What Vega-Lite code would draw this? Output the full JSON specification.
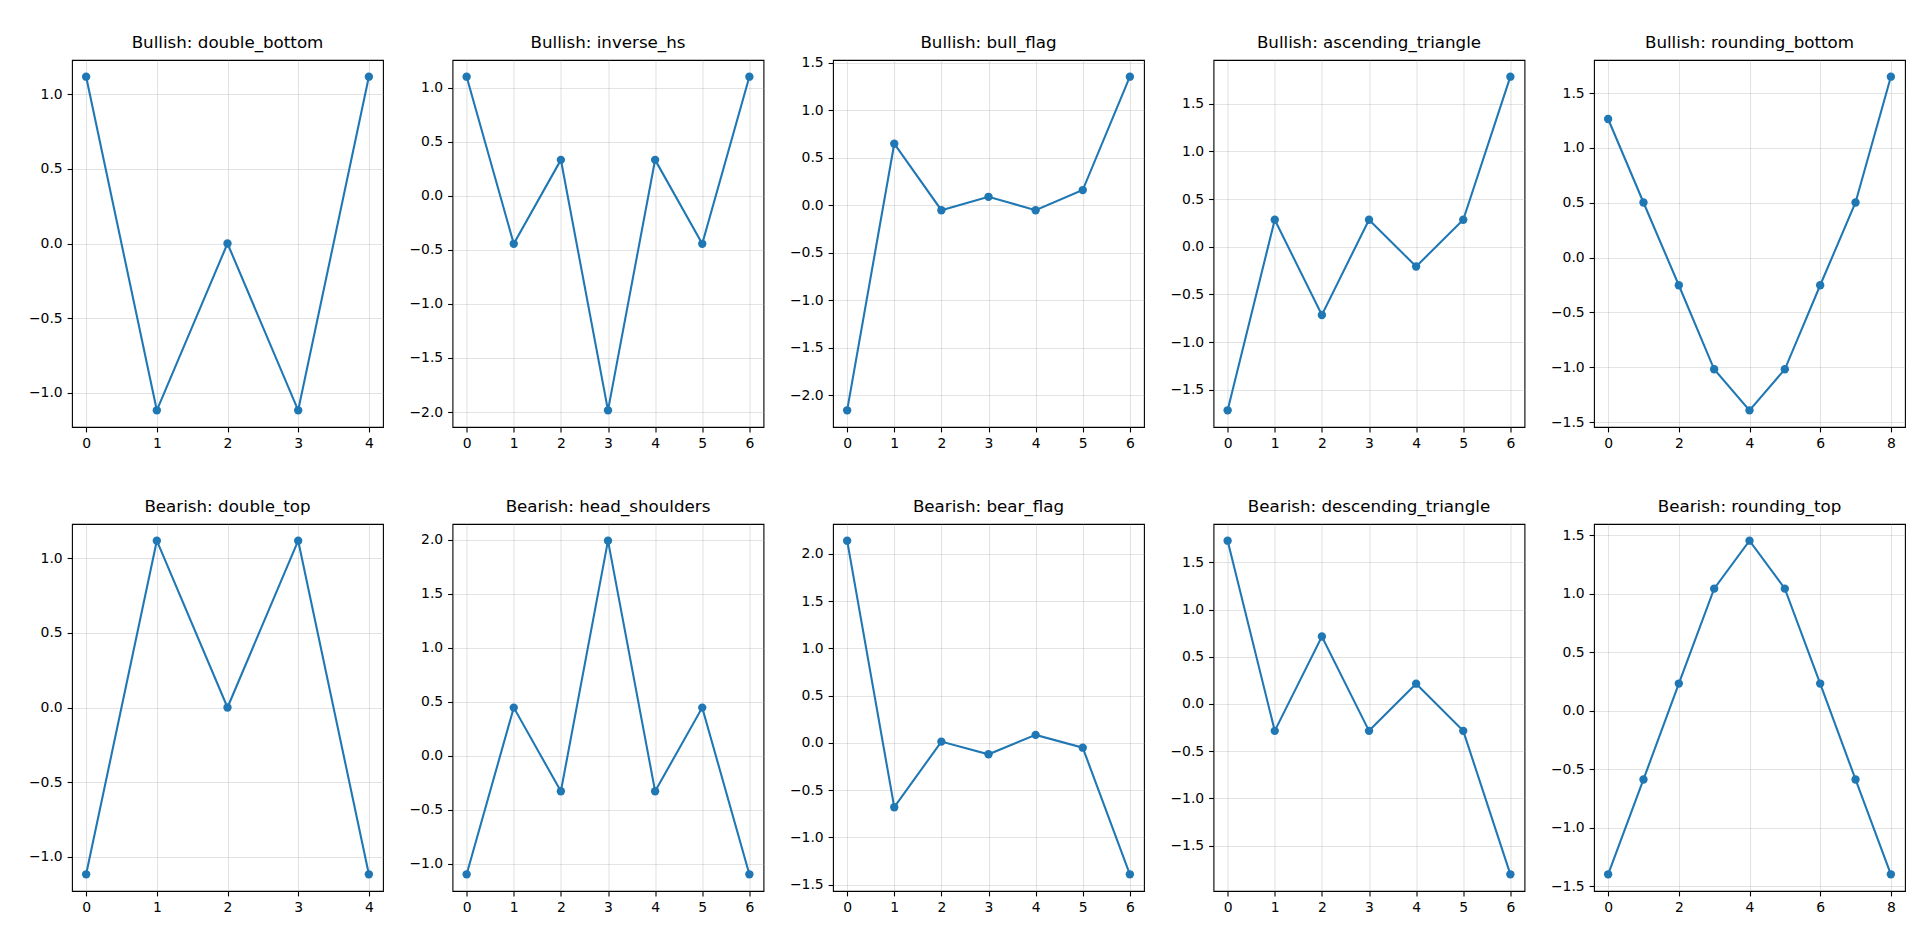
{
  "$schema": "https://vega.github.io/schema/vega-lite/v6.json",
  "padding": {"left": 27, "top": 34, "right": 5, "bottom": 5},
  "background": "white",
  "data": {"values": [
    {"pattern": "Bullish: double_bottom", "i": 0, "v": 1.118},
    {"pattern": "Bullish: double_bottom", "i": 1, "v": -1.118},
    {"pattern": "Bullish: double_bottom", "i": 2, "v": 0.0},
    {"pattern": "Bullish: double_bottom", "i": 3, "v": -1.118},
    {"pattern": "Bullish: double_bottom", "i": 4, "v": 1.118},
    {"pattern": "Bullish: inverse_hs", "i": 0, "v": 1.1},
    {"pattern": "Bullish: inverse_hs", "i": 1, "v": -0.445},
    {"pattern": "Bullish: inverse_hs", "i": 2, "v": 0.331},
    {"pattern": "Bullish: inverse_hs", "i": 3, "v": -1.984},
    {"pattern": "Bullish: inverse_hs", "i": 4, "v": 0.331},
    {"pattern": "Bullish: inverse_hs", "i": 5, "v": -0.445},
    {"pattern": "Bullish: inverse_hs", "i": 6, "v": 1.1},
    {"pattern": "Bullish: bull_flag", "i": 0, "v": -2.16},
    {"pattern": "Bullish: bull_flag", "i": 1, "v": 0.647},
    {"pattern": "Bullish: bull_flag", "i": 2, "v": -0.053},
    {"pattern": "Bullish: bull_flag", "i": 3, "v": 0.088},
    {"pattern": "Bullish: bull_flag", "i": 4, "v": -0.053},
    {"pattern": "Bullish: bull_flag", "i": 5, "v": 0.159},
    {"pattern": "Bullish: bull_flag", "i": 6, "v": 1.353},
    {"pattern": "Bullish: ascending_triangle", "i": 0, "v": -1.716},
    {"pattern": "Bullish: ascending_triangle", "i": 1, "v": 0.284},
    {"pattern": "Bullish: ascending_triangle", "i": 2, "v": -0.716},
    {"pattern": "Bullish: ascending_triangle", "i": 3, "v": 0.284},
    {"pattern": "Bullish: ascending_triangle", "i": 4, "v": -0.207},
    {"pattern": "Bullish: ascending_triangle", "i": 5, "v": 0.284},
    {"pattern": "Bullish: ascending_triangle", "i": 6, "v": 1.785},
    {"pattern": "Bullish: rounding_bottom", "i": 0, "v": 1.263},
    {"pattern": "Bullish: rounding_bottom", "i": 1, "v": 0.502},
    {"pattern": "Bullish: rounding_bottom", "i": 2, "v": -0.2525},
    {"pattern": "Bullish: rounding_bottom", "i": 3, "v": -1.019},
    {"pattern": "Bullish: rounding_bottom", "i": 4, "v": -1.393},
    {"pattern": "Bullish: rounding_bottom", "i": 5, "v": -1.019},
    {"pattern": "Bullish: rounding_bottom", "i": 6, "v": -0.2525},
    {"pattern": "Bullish: rounding_bottom", "i": 7, "v": 0.502},
    {"pattern": "Bullish: rounding_bottom", "i": 8, "v": 1.649},
    {"pattern": "Bearish: double_top", "i": 0, "v": -1.118},
    {"pattern": "Bearish: double_top", "i": 1, "v": 1.118},
    {"pattern": "Bearish: double_top", "i": 2, "v": 0.0},
    {"pattern": "Bearish: double_top", "i": 3, "v": 1.118},
    {"pattern": "Bearish: double_top", "i": 4, "v": -1.118},
    {"pattern": "Bearish: head_shoulders", "i": 0, "v": -1.1},
    {"pattern": "Bearish: head_shoulders", "i": 1, "v": 0.444},
    {"pattern": "Bearish: head_shoulders", "i": 2, "v": -0.331},
    {"pattern": "Bearish: head_shoulders", "i": 3, "v": 1.99},
    {"pattern": "Bearish: head_shoulders", "i": 4, "v": -0.331},
    {"pattern": "Bearish: head_shoulders", "i": 5, "v": 0.444},
    {"pattern": "Bearish: head_shoulders", "i": 6, "v": -1.1},
    {"pattern": "Bearish: bear_flag", "i": 0, "v": 2.14},
    {"pattern": "Bearish: bear_flag", "i": 1, "v": -0.68},
    {"pattern": "Bearish: bear_flag", "i": 2, "v": 0.014},
    {"pattern": "Bearish: bear_flag", "i": 3, "v": -0.12},
    {"pattern": "Bearish: bear_flag", "i": 4, "v": 0.085},
    {"pattern": "Bearish: bear_flag", "i": 5, "v": -0.05},
    {"pattern": "Bearish: bear_flag", "i": 6, "v": -1.39},
    {"pattern": "Bearish: descending_triangle", "i": 0, "v": 1.73},
    {"pattern": "Bearish: descending_triangle", "i": 1, "v": -0.285},
    {"pattern": "Bearish: descending_triangle", "i": 2, "v": 0.715},
    {"pattern": "Bearish: descending_triangle", "i": 3, "v": -0.285},
    {"pattern": "Bearish: descending_triangle", "i": 4, "v": 0.215},
    {"pattern": "Bearish: descending_triangle", "i": 5, "v": -0.285},
    {"pattern": "Bearish: descending_triangle", "i": 6, "v": -1.805},
    {"pattern": "Bearish: rounding_top", "i": 0, "v": -1.4},
    {"pattern": "Bearish: rounding_top", "i": 1, "v": -0.589},
    {"pattern": "Bearish: rounding_top", "i": 2, "v": 0.2306},
    {"pattern": "Bearish: rounding_top", "i": 3, "v": 1.042},
    {"pattern": "Bearish: rounding_top", "i": 4, "v": 1.452},
    {"pattern": "Bearish: rounding_top", "i": 5, "v": 1.042},
    {"pattern": "Bearish: rounding_top", "i": 6, "v": 0.2306},
    {"pattern": "Bearish: rounding_top", "i": 7, "v": -0.589},
    {"pattern": "Bearish: rounding_top", "i": 8, "v": -1.4}
  ]},
  "columns": 5,
  "bounds": "flush",
  "spacing": {"row": 97, "column": 69.5},
  "concat": [
    {"title": "Bullish: double_bottom", "width": 311, "height": 367,
     "transform": [{"filter": {"field": "pattern", "equal": "Bullish: double_bottom"}}],
     "encoding": {
       "x": {"field": "i", "type": "quantitative", "scale": {"domain": [-0.2, 4.2], "nice": false, "zero": false}, "axis": {"title": null, "values": [0, 1, 2, 3, 4], "format": "d"}},
       "y": {"field": "v", "type": "quantitative", "scale": {"domain": [-1.2298, 1.2298], "nice": false, "zero": false}, "axis": {"title": null, "values": [-1, -0.5, 0, 0.5, 1], "format": ".1f"}}},
     "layer": [{"mark": "line"}, {"mark": {"type": "point", "filled": true}}]},
    {"title": "Bullish: inverse_hs", "width": 311, "height": 367,
     "transform": [{"filter": {"field": "pattern", "equal": "Bullish: inverse_hs"}}],
     "encoding": {
       "x": {"field": "i", "type": "quantitative", "scale": {"domain": [-0.3, 6.3], "nice": false, "zero": false}, "axis": {"title": null, "values": [0, 1, 2, 3, 4, 5, 6], "format": "d"}},
       "y": {"field": "v", "type": "quantitative", "scale": {"domain": [-2.1382, 1.2542], "nice": false, "zero": false}, "axis": {"title": null, "values": [-2, -1.5, -1, -0.5, 0, 0.5, 1], "format": ".1f"}}},
     "layer": [{"mark": "line"}, {"mark": {"type": "point", "filled": true}}]},
    {"title": {"text": "Bullish: bull_flag", "offset": 3.7}, "width": 311, "height": 367,
     "transform": [{"filter": {"field": "pattern", "equal": "Bullish: bull_flag"}}],
     "encoding": {
       "x": {"field": "i", "type": "quantitative", "scale": {"domain": [-0.3, 6.3], "nice": false, "zero": false}, "axis": {"title": null, "values": [0, 1, 2, 3, 4, 5, 6], "format": "d"}},
       "y": {"field": "v", "type": "quantitative", "scale": {"domain": [-2.3357, 1.5287], "nice": false, "zero": false}, "axis": {"title": null, "values": [-2, -1.5, -1, -0.5, 0, 0.5, 1, 1.5], "format": ".1f"}}},
     "layer": [{"mark": "line"}, {"mark": {"type": "point", "filled": true}}]},
    {"title": "Bullish: ascending_triangle", "width": 311, "height": 367,
     "transform": [{"filter": {"field": "pattern", "equal": "Bullish: ascending_triangle"}}],
     "encoding": {
       "x": {"field": "i", "type": "quantitative", "scale": {"domain": [-0.3, 6.3], "nice": false, "zero": false}, "axis": {"title": null, "values": [0, 1, 2, 3, 4, 5, 6], "format": "d"}},
       "y": {"field": "v", "type": "quantitative", "scale": {"domain": [-1.8911, 1.9601], "nice": false, "zero": false}, "axis": {"title": null, "values": [-1.5, -1, -0.5, 0, 0.5, 1, 1.5], "format": ".1f"}}},
     "layer": [{"mark": "line"}, {"mark": {"type": "point", "filled": true}}]},
    {"title": "Bullish: rounding_bottom", "width": 311, "height": 367,
     "transform": [{"filter": {"field": "pattern", "equal": "Bullish: rounding_bottom"}}],
     "encoding": {
       "x": {"field": "i", "type": "quantitative", "scale": {"domain": [-0.4, 8.4], "nice": false, "zero": false}, "axis": {"title": null, "values": [0, 2, 4, 6, 8], "format": "d"}},
       "y": {"field": "v", "type": "quantitative", "scale": {"domain": [-1.5451, 1.8011], "nice": false, "zero": false}, "axis": {"title": null, "values": [-1.5, -1, -0.5, 0, 0.5, 1, 1.5], "format": ".1f"}}},
     "layer": [{"mark": "line"}, {"mark": {"type": "point", "filled": true}}]},
    {"title": "Bearish: double_top", "width": 311, "height": 367,
     "transform": [{"filter": {"field": "pattern", "equal": "Bearish: double_top"}}],
     "encoding": {
       "x": {"field": "i", "type": "quantitative", "scale": {"domain": [-0.2, 4.2], "nice": false, "zero": false}, "axis": {"title": null, "values": [0, 1, 2, 3, 4], "format": "d"}},
       "y": {"field": "v", "type": "quantitative", "scale": {"domain": [-1.2298, 1.2298], "nice": false, "zero": false}, "axis": {"title": null, "values": [-1, -0.5, 0, 0.5, 1], "format": ".1f"}}},
     "layer": [{"mark": "line"}, {"mark": {"type": "point", "filled": true}}]},
    {"title": "Bearish: head_shoulders", "width": 311, "height": 367,
     "transform": [{"filter": {"field": "pattern", "equal": "Bearish: head_shoulders"}}],
     "encoding": {
       "x": {"field": "i", "type": "quantitative", "scale": {"domain": [-0.3, 6.3], "nice": false, "zero": false}, "axis": {"title": null, "values": [0, 1, 2, 3, 4, 5, 6], "format": "d"}},
       "y": {"field": "v", "type": "quantitative", "scale": {"domain": [-1.2545, 2.1445], "nice": false, "zero": false}, "axis": {"title": null, "values": [-1, -0.5, 0, 0.5, 1, 1.5, 2], "format": ".1f"}}},
     "layer": [{"mark": "line"}, {"mark": {"type": "point", "filled": true}}]},
    {"title": "Bearish: bear_flag", "width": 311, "height": 367,
     "transform": [{"filter": {"field": "pattern", "equal": "Bearish: bear_flag"}}],
     "encoding": {
       "x": {"field": "i", "type": "quantitative", "scale": {"domain": [-0.3, 6.3], "nice": false, "zero": false}, "axis": {"title": null, "values": [0, 1, 2, 3, 4, 5, 6], "format": "d"}},
       "y": {"field": "v", "type": "quantitative", "scale": {"domain": [-1.5665, 2.3165], "nice": false, "zero": false}, "axis": {"title": null, "values": [-1.5, -1, -0.5, 0, 0.5, 1, 1.5, 2], "format": ".1f"}}},
     "layer": [{"mark": "line"}, {"mark": {"type": "point", "filled": true}}]},
    {"title": "Bearish: descending_triangle", "width": 311, "height": 367,
     "transform": [{"filter": {"field": "pattern", "equal": "Bearish: descending_triangle"}}],
     "encoding": {
       "x": {"field": "i", "type": "quantitative", "scale": {"domain": [-0.3, 6.3], "nice": false, "zero": false}, "axis": {"title": null, "values": [0, 1, 2, 3, 4, 5, 6], "format": "d"}},
       "y": {"field": "v", "type": "quantitative", "scale": {"domain": [-1.9818, 1.9068], "nice": false, "zero": false}, "axis": {"title": null, "values": [-1.5, -1, -0.5, 0, 0.5, 1, 1.5], "format": ".1f"}}},
     "layer": [{"mark": "line"}, {"mark": {"type": "point", "filled": true}}]},
    {"title": "Bearish: rounding_top", "width": 311, "height": 367,
     "transform": [{"filter": {"field": "pattern", "equal": "Bearish: rounding_top"}}],
     "encoding": {
       "x": {"field": "i", "type": "quantitative", "scale": {"domain": [-0.4, 8.4], "nice": false, "zero": false}, "axis": {"title": null, "values": [0, 2, 4, 6, 8], "format": "d"}},
       "y": {"field": "v", "type": "quantitative", "scale": {"domain": [-1.5426, 1.5946], "nice": false, "zero": false}, "axis": {"title": null, "values": [-1.5, -1, -0.5, 0, 0.5, 1, 1.5], "format": ".1f"}}},
     "layer": [{"mark": "line"}, {"mark": {"type": "point", "filled": true}}]}
  ],
  "config": {
    "view": {"stroke": "black", "strokeWidth": 1.1},
    "axis": {
      "domain": false, "grid": true, "gridColor": "#b0b0b0", "gridOpacity": 0.35, "gridWidth": 1.1,
      "ticks": true, "tickColor": "black", "tickSize": 4.9, "tickWidth": 1.1,
      "labelFont": "DejaVu Sans", "labelFontSize": 13.9, "labelColor": "black", "labelPadding": 4.9,
      "labelFlush": false, "labelOverlap": false
    },
    "title": {"font": "DejaVu Sans", "fontSize": 16.7, "fontWeight": "normal", "color": "black", "offset": 8, "baseline": "alphabetic", "anchor": "middle", "frame": "group"},
    "line": {"color": "#1f77b4", "strokeWidth": 2.08},
    "point": {"color": "#1f77b4", "size": 70, "opacity": 1}
  }
}
